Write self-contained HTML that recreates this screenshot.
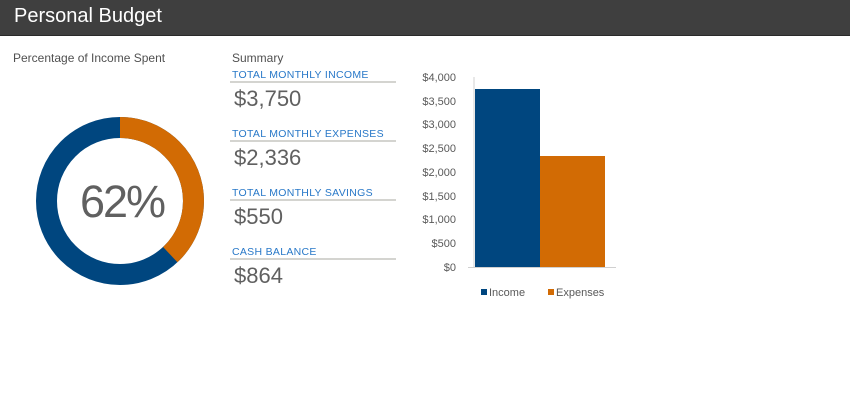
<!DOCTYPE html>
<html><head><style>
body{margin:0;width:850px;height:400px;background:#fff;font-family:"Liberation Sans",sans-serif;position:relative;overflow:hidden}
.hdr{position:absolute;left:0;top:0;width:850px;height:35px;background:#3f3f3f;border-bottom:1px solid #2a2a2a}
.hdr span{position:absolute;left:14px;top:5px;color:#fff;font-size:20px}
.t{position:absolute;font-size:12px;color:#505050}
.lab{position:absolute;left:232px;font-size:10.5px;color:#2878c8;letter-spacing:0.3px}
.line{position:absolute;left:230px;width:166px;height:2px;background:#d4d4d0}
.val{position:absolute;left:234px;font-size:22px;color:#606060}
</style></head><body>
<div class="hdr"><span>Personal Budget</span></div>
<div class="t" style="left:13px;top:51px">Percentage of Income Spent</div>
<div class="t" style="left:232px;top:51px">Summary</div>
<div class="lab" style="top:69px">TOTAL MONTHLY INCOME</div><div class="line" style="top:81px"></div><div class="val" style="top:86px">$3,750</div>
<div class="lab" style="top:128px">TOTAL MONTHLY EXPENSES</div><div class="line" style="top:140px"></div><div class="val" style="top:145px">$2,336</div>
<div class="lab" style="top:187px">TOTAL MONTHLY SAVINGS</div><div class="line" style="top:199px"></div><div class="val" style="top:204px">$550</div>
<div class="lab" style="top:246px">CASH BALANCE</div><div class="line" style="top:258px"></div><div class="val" style="top:263px">$864</div>
<svg width="850" height="400" style="position:absolute;left:0;top:0">
<circle cx="120" cy="201" r="73.5" fill="none" stroke="#00467f" stroke-width="21"/>
<circle cx="120" cy="201" r="73.5" fill="none" stroke="#d26b04" stroke-width="21" stroke-dasharray="175.5 1000" transform="rotate(-90 120 201)"/>
<text x="123" y="217" text-anchor="middle" font-size="45" fill="#606060" font-family="Liberation Sans,sans-serif" textLength="86">62%</text>
<g font-size="11" fill="#595959" text-anchor="end" font-family="Liberation Sans,sans-serif">
<text x="456" y="81">$4,000</text><text x="456" y="105">$3,500</text><text x="456" y="128">$3,000</text><text x="456" y="152">$2,500</text><text x="456" y="176">$2,000</text><text x="456" y="200">$1,500</text><text x="456" y="223">$1,000</text><text x="456" y="247">$500</text><text x="456" y="271">$0</text>
</g>
<line x1="474" y1="77" x2="474" y2="267" stroke="#d0d0d0"/>
<line x1="468" y1="267.5" x2="616" y2="267.5" stroke="#d0d0d0"/>
<rect x="475" y="89" width="65" height="178" fill="#00467f"/>
<rect x="540" y="156" width="65" height="111" fill="#d26b04"/>
<rect x="481" y="289" width="6" height="6" fill="#00467f"/>
<text x="489" y="296" font-size="11" fill="#595959" font-family="Liberation Sans,sans-serif">Income</text>
<rect x="548" y="289" width="6" height="6" fill="#d26b04"/>
<text x="556" y="296" font-size="11" fill="#595959" font-family="Liberation Sans,sans-serif">Expenses</text>
</svg>
</body></html>
